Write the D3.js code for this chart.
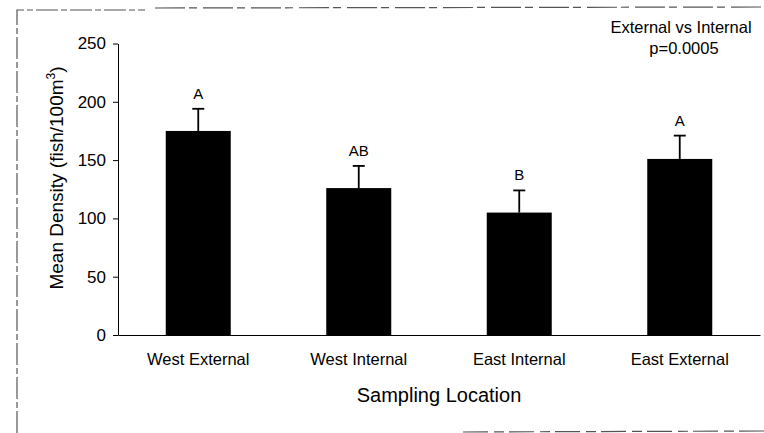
<!DOCTYPE html>
<html>
<head>
<meta charset="utf-8">
<script src="https://cdn.jsdelivr.net/npm/d3@7"></script>
<style>
  body { margin: 0; background: #fff; }
  svg { display: block; font-family: "Liberation Sans", Arial, sans-serif; }
</style>
</head>
<body>
<div id="chart"></div>
<script>
// data
let locations = ["West External", "West Internal", "East Internal", "East External"];
let means = [175, 126, 105, 151];
let errors = [19, 19, 19, 20];
let groups = ["A", "AB", "B", "A"];
let yTicks = [0, 50, 100, 150, 200, 250];

let width = 764, height = 433;
let plot = {left: 118, right: 760, top: 43.5, bottom: 335};

let svg = d3.select("#chart")
    .append("svg")
    .attr("width", width)
    .attr("height", height);

// scanned page frame (dashed, grey)
let frame = svg.append("g")
    .attr("fill", "none")
    .attr("stroke", "#555")
    .attr("stroke-width", 1.2);
frame.append("path")
    .attr("d", "M17,433 L17,10 L145,10")
    .attr("stroke-dasharray", "22,3,6,3");
frame.append("path")
    .attr("d", "M155,8 L764,7")
    .attr("stroke-dasharray", "30,4,8,6");
frame.append("path")
    .attr("d", "M463,432 L764,431")
    .attr("stroke-dasharray", "25,6,10,5");

let x = d3.scaleBand()
    .domain(locations)
    .range([plot.left, plot.right])
    .paddingInner(0.595)
    .paddingOuter(0.2975);

let y = d3.scaleLinear()
    .domain([0, 250])
    .range([plot.bottom, plot.top]);

// y axis
let yAxis = svg.append("g")
    .attr("transform", `translate(${plot.left}, 0)`)
    .call(d3.axisLeft(y).tickValues(yTicks).tickSize(5).tickPadding(7).tickSizeOuter(0));
yAxis.selectAll("text")
    .style("font-size", "17px")
    .attr("fill", "#000");
yAxis.selectAll("line, path").attr("stroke", "#000");

// x axis
let xAxis = svg.append("g")
    .attr("transform", `translate(0, ${plot.bottom})`)
    .call(d3.axisBottom(x).tickSize(0).tickPadding(18).tickSizeOuter(0));
xAxis.selectAll("text")
    .style("font-size", "16.5px")
    .attr("fill", "#000");
xAxis.select(".domain").attr("stroke", "#000");

// bars
let bars = svg.append("g").selectAll("rect").data(locations);
bars.enter()
    .append("rect")
    .attr("x", d => x(d))
    .attr("y", (d, i) => y(means[i]))
    .attr("width", x.bandwidth())
    .attr("height", (d, i) => y(0) - y(means[i]))
    .attr("fill", "#000");

// upper error bars
let err = svg.append("g")
    .attr("stroke", "#000")
    .attr("stroke-width", 1.8);
locations.forEach(function(d, i) {
    let cx = x(d) + x.bandwidth() / 2;
    err.append("line")
        .attr("x1", cx).attr("x2", cx)
        .attr("y1", y(means[i])).attr("y2", y(means[i] + errors[i]));
    err.append("line")
        .attr("x1", cx - 6).attr("x2", cx + 6)
        .attr("y1", y(means[i] + errors[i])).attr("y2", y(means[i] + errors[i]));
});

// significance letters
svg.append("g").selectAll("text").data(locations)
    .enter()
    .append("text")
    .attr("x", d => x(d) + x.bandwidth() / 2)
    .attr("y", (d, i) => y(means[i] + errors[i]) - 10)
    .attr("text-anchor", "middle")
    .style("font-size", "15px")
    .text((d, i) => groups[i]);

// axis titles
svg.append("text")
    .attr("x", (plot.left + plot.right) / 2)
    .attr("y", 402)
    .attr("text-anchor", "middle")
    .style("font-size", "20px")
    .text("Sampling Location");

let yTitle = svg.append("text")
    .attr("transform", `translate(63, 178) rotate(-90)`)
    .attr("text-anchor", "middle")
    .style("font-size", "19px");
yTitle.append("tspan").text("Mean Density (fish/100m");
yTitle.append("tspan").attr("dy", -8).style("font-size", "12px").text("3");
yTitle.append("tspan").attr("dy", 8).text(")");

// comparison note
svg.append("text")
    .attr("x", 681)
    .attr("y", 33)
    .attr("text-anchor", "middle")
    .style("font-size", "16.5px")
    .text("External vs Internal");
svg.append("text")
    .attr("x", 684)
    .attr("y", 54)
    .attr("text-anchor", "middle")
    .style("font-size", "16.5px")
    .text("p=0.0005");
</script>
</body>
</html>
